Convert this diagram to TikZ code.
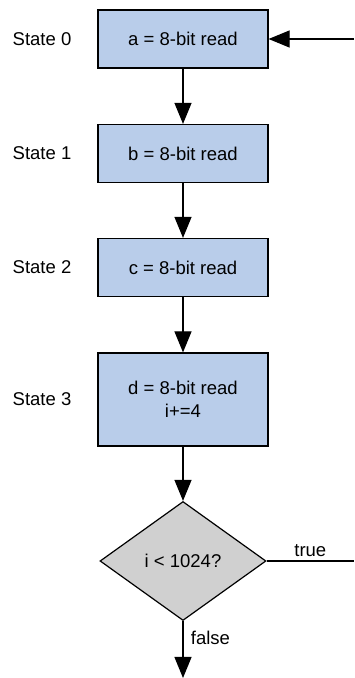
\documentclass[tikz,border=0pt]{standalone}
\usepackage{fontspec}
\setmainfont{Liberation Sans}
\usetikzlibrary{shapes.geometric,arrows.meta}

\definecolor{boxblue}{RGB}{185,205,234}
\definecolor{decgray}{RGB}{208,208,208}

\begin{document}
\begin{tikzpicture}[x=1pt,y=1pt,line width=1.2pt,
    font=\fontsize{18.5}{22}\selectfont,
    statebox/.style={draw,fill=boxblue,minimum width=170pt,minimum height=58pt,align=center},
    test/.style={draw,fill=decgray,diamond,aspect=1.4,inner sep=0pt,minimum width=166pt,minimum height=119pt},
    flow/.style={-{Triangle[length=21pt,width=17pt]}}]
         \useasboundingbox (0,0) rectangle (354,678) ;
         %\draw[very thin,gray,step=20] (0,0) grid (354,678) ;
         \node[statebox] (s0) at (183,639) {a = 8-bit read} ;
         \node[statebox] (s1) at (183,524.5) {b = 8-bit read} ;
         \node[statebox] (s2) at (183,410.5) {c = 8-bit read} ;
         \node[statebox,minimum height=93pt] (s3) at (183,278.5) {d = 8-bit read\\[1pt] i+=4} ;
         \node[test] (cond) at (183,117) {i < 1024?} ;
         % labels on the left
         \node (l0) at (42,639) {State 0} ;
         \node (l1) at (42,524.5) {State 1} ;
         \node (l2) at (42,410.5) {State 2} ;
         \node (l3) at (42,278.5) {State 3} ;
         % loop ends
         \coordinate (back) at (354,639) ;
         \coordinate (loop) at (354,117) ;
         \coordinate (done) at (183,0) ;
         \draw[flow] (back) -- (s0) ;
         \draw[flow] (s0) -- (s1) ;
         \draw[flow] (s1) -- (s2) ;
         \draw[flow] (s2) -- (s3) ;
         \draw[flow] (s3) -- (cond) ;
         \draw (cond.east) -- (loop) node[pos=0.5,above] {true} ;
         \draw[flow] (cond.south) -- (done) node[pos=0.3,right,xshift=4pt] {false} ;
       \end{tikzpicture}
\end{document}
